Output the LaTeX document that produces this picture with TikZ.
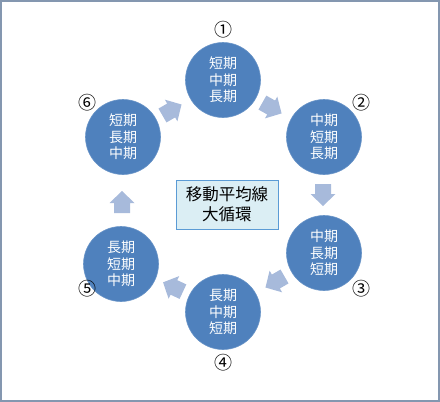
\documentclass[tikz,border=0pt]{standalone}
\usepackage{fontspec}
\setmainfont{Noto Sans CJK JP}
\definecolor{circblue}{HTML}{4F81BD}
\definecolor{arrblue}{HTML}{A7BADB}
\definecolor{boxfill}{HTML}{DBEEF4}
\definecolor{boxline}{HTML}{5B9BD5}
\definecolor{frameline}{HTML}{8497B0}
\begin{document}
\begin{tikzpicture}[x=1pt,y=-1pt,
  phase/.style={circle,fill=circblue,draw=circblue!85!white,line width=0.6pt,minimum size=75pt,inner sep=0pt,
    text=white,font=\fontsize{14}{16.7}\selectfont,align=center},
  num/.style={font=\fontsize{18}{18}\selectfont,inner sep=0pt},
  blockarrow/.style={fill=arrblue,draw=none}]
\useasboundingbox (0,0) rectangle (440,402);
\draw[frameline,line width=1.5pt] (1,1) rectangle (439,401);
\node[phase] (c1) at (223,80) {短期\\中期\\長期};
\node[phase] (c2) at (324,137) {中期\\短期\\長期};
\node[phase] (c3) at (324,253) {中期\\長期\\短期};
\node[phase] (c4) at (223,312) {長期\\中期\\短期};
\node[phase] (c5) at (121,264) {長期\\短期\\中期};
\node[phase] (c6) at (123,137) {短期\\長期\\中期};
\node[num] (n1) at (223,30) {①};
\node[num] (n2) at (361,103) {②};
\node[num] (n3) at (361,289) {③};
\node[num] (n4) at (223,363) {④};
\node[num] (n5) at (87,289) {⑤};
\node[num] (n6) at (87,103) {⑥};
\def\blockarr#1#2{\fill[blockarrow,shift={#1},rotate=#2]
  (-11,-8) -- (-1,-8) -- (-1,-12.5) -- (11,0) -- (-1,12.5) -- (-1,8) -- (-11,8) -- cycle;}
\blockarr{(272,108)}{-29.5}
\blockarr{(323,195)}{-90}
\blockarr{(275,282)}{-150}
\blockarr{(173,287)}{155}
\blockarr{(122,202)}{90}
\blockarr{(172,110)}{30}
\node[draw=boxline,fill=boxfill,line width=1pt,minimum width=102pt,minimum height=49pt,inner sep=0pt,
  font=\fontsize{16.5}{20}\selectfont,align=center] (title) at (227,204.5) {移動平均線\\大循環};
\end{tikzpicture}
\end{document}
